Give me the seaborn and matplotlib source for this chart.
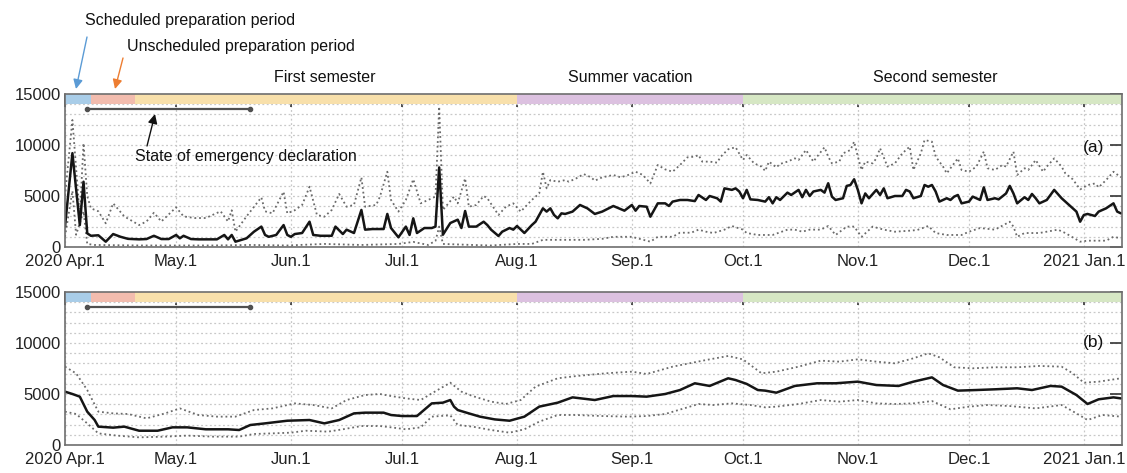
import numpy as np
import pandas as pd
import matplotlib
matplotlib.use("Agg")
import matplotlib.pyplot as plt
import seaborn as sns

# ---------------- data (day offsets from 2020-04-01) ----------------
START = "2020-04-01"

a_mean_day = [0, 2, 4, 5, 6, 7, 9, 11, 13, 15, 17, 20, 22, 24, 26, 28, 30, 31, 32, 34, 36, 39, 41, 43, 44, 45, 46,
              49, 51, 53, 54, 55, 57, 59, 60, 61, 62, 64, 66, 67, 69, 72, 73, 75, 76, 78, 80, 81, 83, 86, 87, 88,
              90, 92, 93, 94, 95, 97, 99, 100, 101, 102, 104, 106, 107, 108, 109, 111, 113, 114, 115, 117, 118,
              120, 121, 122, 124, 126, 127, 129, 130, 131, 132, 133, 134, 135, 137, 139, 141, 143, 145, 148, 151,
              153, 154, 155, 157, 158, 160, 162, 163, 164, 166, 168, 170, 171, 173, 174, 176, 177, 178, 180, 181,
              182, 183, 184, 185, 187, 189, 190, 191, 192, 193, 195, 196, 198, 199, 200, 201, 202, 204, 205, 206,
              207, 208, 210, 211, 212, 213, 214, 215, 216, 217, 219, 220, 221, 222, 224, 226, 227, 228, 229, 231,
              232, 233, 234, 235, 236, 238, 239, 240, 241, 242, 244, 245, 247, 248, 249, 251, 252, 254, 255, 256,
              257, 259, 260, 261, 262, 263, 265, 267, 269, 270, 272, 273, 274, 275, 276, 278, 279, 281, 283, 284, 285]
a_mean_val = [2000, 9200, 2150, 6400, 1340, 1100, 1150, 520, 1270, 1000, 800, 750, 780, 1100, 780, 780, 1180, 850,
              1100, 780, 750, 750, 750, 1180, 750, 1180, 520, 850, 1500, 2000, 1180, 1000, 1180, 2150, 1180, 1000,
              1270, 1370, 2480, 1180, 1100, 1100, 2000, 1270, 1700, 1370, 3630, 1700, 1760, 1760, 3240, 1860, 950,
              2000, 1180, 2810, 1370, 1860, 1860, 2000, 7800, 1200, 2350, 2680, 1860, 3530, 2000, 2000, 2480, 2150,
              1700, 1080, 1500, 1860, 1700, 2060, 1370, 2150, 2480, 3790, 3470, 3790, 3140, 2810, 3300, 3240, 3470,
              4120, 3790, 3240, 3470, 4020, 3560, 4120, 3560, 4020, 3950, 2970, 4280, 4280, 4020, 4450, 4610, 4610,
              4500, 5100, 4610, 5000, 4780, 4450, 5750, 5600, 5750, 5440, 4780, 5600, 4670, 4610, 4450, 4880, 4280,
              4880, 4610, 5330, 5100, 5600, 4880, 5600, 5000, 5440, 5600, 5330, 6250, 4940, 4610, 4780, 5990, 6080,
              6640, 5600, 4280, 5250, 4780, 5600, 5100, 5750, 4780, 5000, 5000, 5600, 5440, 4780, 5000, 6080, 5910,
              6080, 5440, 4450, 4780, 4610, 4940, 5100, 4280, 4450, 4940, 4610, 5850, 4610, 4780, 4670, 5250, 5990,
              5250, 4280, 4880, 4610, 5200, 4780, 4280, 4610, 5600, 4780, 4450, 3790, 3470, 2480, 3140, 3240, 3040,
              3470, 3790, 4280, 3470, 3300]

a_upper_day = [0, 2, 4, 5, 6, 7, 9, 11, 13, 16, 20, 22, 24, 26, 30, 32, 35, 38, 42, 44, 45, 46, 49, 53, 54, 56, 59,
               60, 62, 64, 66, 68, 70, 72, 74, 76, 78, 80, 81, 84, 85, 87, 88, 90, 92, 94, 96, 98, 100, 101, 102,
               105, 106, 108, 109, 111, 113, 114, 117, 119, 121, 123, 126, 128, 129, 130, 131, 133, 135, 136, 138,
               140, 142, 143, 145, 148, 150, 152, 154, 156, 158, 160, 162, 164, 166, 168, 170, 171, 172, 174, 176,
               177, 179, 181, 183, 184, 186, 188, 189, 190, 192, 193, 195, 197, 198, 200, 202, 203, 205, 206, 207,
               209, 210, 212, 213, 214, 215, 216, 218, 219, 220, 222, 223, 224, 226, 228, 229, 231, 232, 234, 235,
               237, 238, 239, 241, 242, 244, 246, 248, 249, 251, 253, 254, 256, 257, 259, 260, 262, 264, 265, 267,
               269, 270, 272, 274, 276, 278, 279, 281, 283, 285]
a_upper_val = [5000, 12450, 2970, 10170, 5000, 3790, 3500, 2320, 4280, 3000, 2150, 2500, 3360, 2500, 3890, 3000,
               2840, 2840, 3500, 2500, 3600, 1500, 3000, 4870, 3500, 3300, 5420, 3300, 3600, 4120, 5910, 3140,
               2970, 3630, 5200, 3950, 4120, 6830, 3950, 4120, 4930, 7380, 4610, 3470, 4610, 6640, 4280, 4610, 4940,
               13760, 3630, 4940, 4280, 6730, 3950, 4120, 5000, 4780, 3140, 3950, 4280, 3470, 4610, 5250, 7380,
               5750, 6560, 6400, 6560, 6400, 6730, 7150, 6830, 6500, 6830, 7060, 6830, 7060, 7380, 7060, 6230, 8040,
               7610, 7380, 8040, 8790, 8860, 9020, 8370, 8370, 8270, 8860, 9580, 9780, 8530, 9020, 8200, 7880, 7450,
               8370, 7810, 8140, 8370, 8690, 8530, 9510, 8370, 8860, 9780, 8860, 8200, 8370, 9180, 9510, 10330,
               8860, 7550, 8370, 8200, 8690, 9680, 7880, 8040, 8200, 9180, 9840, 7550, 9180, 10490, 10330, 8860,
               7880, 7220, 7720, 8690, 7550, 7380, 7880, 9350, 7720, 7550, 8040, 7880, 9350, 7060, 7720, 7550, 8530,
               7380, 7880, 8690, 7880, 7220, 6640, 5650, 6070, 6230, 5850, 6560, 7380, 6830]

a_lower_day = [0, 2, 3, 5, 6, 8, 20, 40, 50, 60, 70, 80, 90, 94, 98, 100, 101, 102, 110, 115, 122, 126, 129, 135,
               140, 145, 148, 153, 158, 160, 164, 166, 169, 171, 173, 175, 178, 180, 183, 184, 187, 191, 195, 197,
               199, 201, 204, 206, 208, 211, 213, 215, 218, 221, 224, 228, 230, 233, 235, 238, 242, 244, 247, 251,
               255, 256, 257, 259, 263, 268, 270, 274, 276, 281, 283, 285]
a_lower_val = [1000, 5500, 1200, 3500, 300, 200, 150, 150, 200, 150, 300, 200, 300, 500, 200, 600, 2000, 300, 200,
               150, 300, 300, 700, 700, 700, 800, 1000, 1000, 520, 1000, 1000, 1400, 1400, 1700, 1500, 1370, 1700,
               2060, 1700, 1370, 1180, 1180, 1700, 1700, 1500, 1700, 1700, 2060, 1180, 2000, 2000, 1000, 2000, 1700,
               1500, 1600, 1660, 2060, 1370, 1180, 1180, 1500, 1860, 1700, 2480, 2000, 1000, 1370, 1370, 1700, 1370,
               520, 620, 620, 1000, 850]

b_mean_day = [0, 2, 4, 6, 8, 9, 13, 16, 20, 25, 29, 33, 38, 44, 47, 50, 54, 60, 66, 70, 74, 78, 81, 86, 88, 91, 95,
              99, 102, 104, 105, 106, 109, 112, 116, 120, 124, 128, 133, 137, 143, 148, 153, 157, 162, 166, 170,
              174, 179, 181, 184, 187, 189, 192, 197, 203, 208, 214, 219, 225, 229, 234, 237, 241, 246, 251, 257,
              261, 266, 269, 273, 276, 279, 283, 285]
b_mean_val = [5230, 5000, 4740, 3270, 2450, 1800, 1700, 1800, 1400, 1400, 1730, 1730, 1540, 1540, 1470, 1960, 2120,
              2380, 2450, 2120, 2450, 3100, 3170, 3170, 2940, 2840, 2840, 4080, 4150, 4410, 3760, 3430, 3100, 2780,
              2510, 2380, 2780, 3760, 4150, 4670, 4410, 4800, 4800, 4740, 5000, 5390, 6050, 5790, 6540, 6370, 5990,
              5390, 5330, 5130, 5790, 6050, 6050, 6210, 5880, 5790, 6210, 6630, 5880, 5330, 5390, 5460, 5560, 5390,
              5790, 5720, 4900, 4020, 4480, 4670, 4570]

b_upper_day = [0, 3, 6, 9, 13, 17, 22, 27, 31, 36, 41, 46, 51, 56, 62, 67, 72, 76, 81, 85, 88, 92, 96, 99, 104,
               107, 110, 115, 119, 123, 127, 133, 138, 146, 153, 157, 164, 173, 179, 183, 188, 192, 198, 204, 209,
               214, 219, 224, 229, 233, 236, 240, 245, 251, 257, 263, 269, 272, 275, 279, 285]
b_upper_val = [7680, 7020, 5390, 3270, 3100, 3040, 2610, 3100, 3590, 2940, 2780, 2780, 3430, 3590, 4080, 3920, 3590,
               4410, 4900, 5000, 4800, 4570, 4410, 5060, 6110, 5230, 4800, 4250, 4020, 4410, 5720, 6540, 6760, 7030,
               7190, 6960, 7680, 8330, 8730, 8390, 7030, 7190, 7680, 8270, 8170, 8400, 8170, 8010, 8500, 8990, 8600,
               7620, 7520, 7620, 7620, 7750, 7680, 7030, 6110, 6210, 6540]

b_lower_day = [0, 3, 6, 9, 14, 20, 27, 33, 40, 47, 51, 56, 61, 65, 71, 75, 80, 85, 88, 92, 96, 99, 104, 106, 110,
               115, 120, 124, 128, 133, 138, 145, 152, 157, 162, 168, 171, 175, 180, 185, 189, 192, 198, 204, 209,
               214, 219, 224, 229, 234, 239, 244, 249, 255, 262, 269, 273, 276, 280, 285]
b_lower_val = [3270, 3040, 2120, 1140, 920, 750, 820, 920, 820, 820, 1080, 1140, 1210, 1400, 1310, 1540, 1860, 1860,
               1730, 1540, 1730, 2780, 2910, 1960, 1800, 1470, 1210, 1540, 2290, 2940, 2940, 2840, 2780, 2840, 3040,
               3690, 4020, 3920, 4080, 3920, 3690, 3760, 4020, 4410, 4250, 4410, 4080, 4020, 4080, 4310, 3500, 3760,
               3920, 3820, 3590, 3920, 3100, 2450, 2940, 2780]

# period bands
period_names = ["Scheduled preparation", "Unscheduled preparation", "First semester", "Summer vacation",
                "Second semester"]
period_start = ["2020-04-01", "2020-04-08", "2020-04-20", "2020-08-01", "2020-10-01"]
period_end = ["2020-04-08", "2020-04-20", "2020-08-01", "2020-10-01", "2021-01-12"]
period_colors = ["#a9cde8", "#f2bcae", "#f8e0ab", "#dcc1e0", "#d6e7c4"]

emergency_start = "2020-04-07"
emergency_end = "2020-05-21"

month_ticks = pd.date_range("2020-04-01", "2021-01-01", freq="MS")
month_labels = ["2020 Apr.1", "May.1", "Jun.1", "Jul.1", "Aug.1", "Sep.1", "Oct.1", "Nov.1", "Dec.1",
                "2021 Jan.1"]


def to_df(day, val):
    d = pd.Timestamp(START) + pd.to_timedelta(np.array(day, dtype=float), unit="D")
    return pd.DataFrame({"date": d, "value": val})


# ---------------- figure ----------------
sns.set_theme(style="white")
plt.rcParams["font.family"] = ["Liberation Sans", "DejaVu Sans"]

W, H = 1127, 473
fig = plt.figure(figsize=(W / 100, H / 100), dpi=100)


def fx(px):
    return px / W


def fy(py):
    return 1 - py / H


ax_a = fig.add_axes([fx(65), fy(247), fx(1122) - fx(65), fy(94) - fy(247)])
ax_b = fig.add_axes([fx(65), fy(445), fx(1122) - fx(65), fy(292) - fy(445)])

xmin = pd.Timestamp(START)
xmax = pd.Timestamp(START) + pd.Timedelta(days=285.3)

panels = [
    (ax_a, (a_mean_day, a_mean_val), (a_upper_day, a_upper_val), (a_lower_day, a_lower_val), "(a)"),
    (ax_b, (b_mean_day, b_mean_val), (b_upper_day, b_upper_val), (b_lower_day, b_lower_val), "(b)"),
]

for ax, mean, up, lo, tag in panels:
    ax.set_facecolor("white")
    for s, e, c in zip(period_start, period_end, period_colors):
        ax.axvspan(pd.Timestamp(s), pd.Timestamp(e), ymin=14000 / 15000, ymax=1, color=c, lw=0, zorder=1)
    sns.lineplot(data=to_df(*up), x="date", y="value", ax=ax, color="#6a6a6a", lw=1.3, ls=(0, (1, 1.6)),
                 zorder=3)
    sns.lineplot(data=to_df(*lo), x="date", y="value", ax=ax, color="#6a6a6a", lw=1.3, ls=(0, (1, 1.6)),
                 zorder=3)
    sns.lineplot(data=to_df(*mean), x="date", y="value", ax=ax, color="#151515", lw=1.8, zorder=4)

    # state of emergency bar
    ax.plot([pd.Timestamp(emergency_start), pd.Timestamp(emergency_end)], [13500, 13500], color="#505050",
            lw=1.6, marker="o", ms=3, zorder=5)

    ax.set_xlim(xmin, xmax)
    ax.set_ylim(0, 15000)
    ax.set_xlabel("")
    ax.set_ylabel("")
    ax.set_xticks(month_ticks)
    ax.set_xticklabels(month_labels, fontsize=12, color="#222222")
    ax.set_yticks([0, 5000, 10000, 15000])
    ax.set_yticklabels(["0", "5000", "10000", "15000"], fontsize=12, color="#222222")
    ax.set_yticks(np.arange(0, 15001, 1000), minor=True)
    ax.tick_params(axis="both", which="major", direction="in", length=9, width=1.2, color="#333333",
                   top=True, right=True, pad=3)
    ax.tick_params(axis="y", which="minor", length=0)
    ax.tick_params(axis="x", which="major", pad=5)
    ax.grid(True, axis="y", which="both", color="#c8c8c8", ls=(0, (1.5, 2)), lw=0.9, zorder=0)
    ax.grid(True, axis="x", which="major", color="#c8c8c8", ls=(0, (1.5, 2)), lw=0.9, zorder=0)
    ax.set_axisbelow(True)
    for sp in ax.spines.values():
        sp.set_color("#6e6e6e")
        sp.set_linewidth(1.2)
        sp.set_zorder(6)
    ax.text(0.973, 0.65 if tag == "(a)" else 0.67, tag, transform=ax.transAxes, fontsize=12.5,
            ha="center", va="center", color="#111111")

# ---------------- annotations ----------------
fig.text(fx(85), fy(20), "Scheduled preparation period", fontsize=11.5, ha="left", va="center", color="#111")
fig.text(fx(127), fy(46), "Unscheduled preparation period", fontsize=11.5, ha="left", va="center", color="#111")
fig.text(fx(325), fy(77), "First semester", fontsize=11.5, ha="center", va="center", color="#111")
fig.text(fx(630), fy(78), "Summer vacation", fontsize=11.5, ha="center", va="center", color="#111")
fig.text(fx(935), fy(77), "Second semester", fontsize=11.5, ha="center", va="center", color="#111")
fig.text(fx(135), fy(156), "State of emergency declaration", fontsize=11.5, ha="left", va="center",
         color="#111")

arrow_kw = dict(arrowstyle="-|>", lw=1.0, mutation_scale=14, shrinkA=0, shrinkB=0)
fig.add_artist(matplotlib.patches.FancyArrowPatch((fx(87), fy(37)), (fx(76), fy(89)),
                                                  transform=fig.transFigure, color="#5b9bd5", **arrow_kw))
fig.add_artist(matplotlib.patches.FancyArrowPatch((fx(123), fy(58)), (fx(115), fy(89)),
                                                  transform=fig.transFigure, color="#ed7d31", **arrow_kw))
fig.add_artist(matplotlib.patches.FancyArrowPatch((fx(147), fy(146)), (fx(155), fy(114)),
                                                  transform=fig.transFigure, color="#111111", **arrow_kw))

fig.savefig("out.png", dpi=100)
